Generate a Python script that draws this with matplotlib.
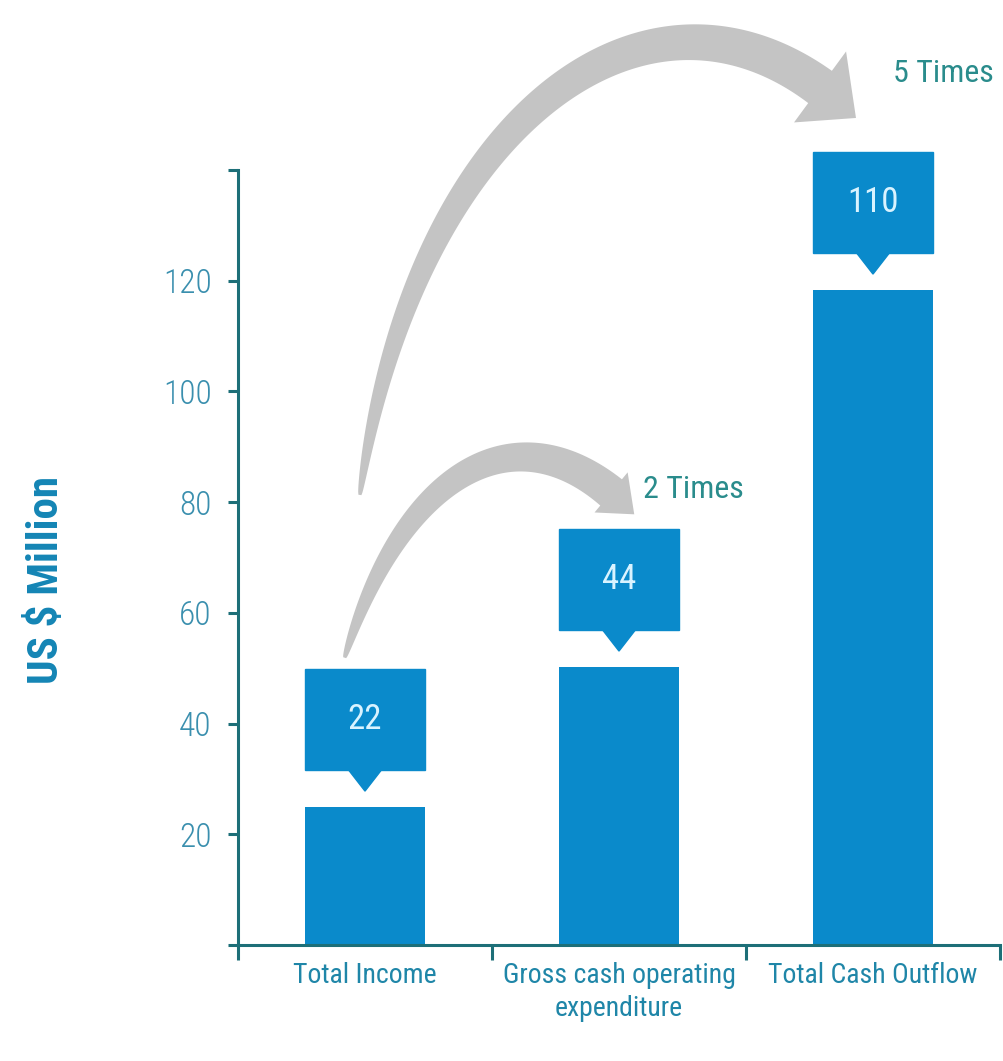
import numpy as np
import matplotlib
matplotlib.use("Agg")
import matplotlib.pyplot as plt
from matplotlib import font_manager
from matplotlib.patches import Rectangle, Polygon

categories = ["Total Income", "Gross cash operating\nexpenditure", "Total Cash Outflow"]
bar_heights = [25.0, 50.3, 118.4]
value_labels = ["22", "44", "110"]
times_labels = ["2 Times", "5 Times"]
y_ticks = [0, 20, 40, 60, 80, 100, 120, 140]
y_ticklabels = ["", "20", "40", "60", "80", "100", "120", ""]

# pick a condensed face if one is installed
_names = {f.name for f in font_manager.fontManager.ttflist}
NARROW = "DejaVu Sans"
for cand in ("Roboto Condensed", "Liberation Sans Narrow", "Open Sans Condensed", "Liberation Sans"):
    if (cand in _names):
        NARROW = cand
        break
plt.rcParams["font.family"] = [NARROW, "DejaVu Sans"]

BAR = "#0a8acb"
SPINE = "#1d6f78"
GREY = "#c4c4c4"
TICK_TXT = "#3a8fae"
CAT_TXT = "#1f86a8"
TIMES_TXT = "#2a8c8c"


def curved_arrow(ax, pa, pb, angA, angB, L1, L2, w0, w1, head_w, head_len, color):
    """Tapered curved arrow: cubic path built in pixels, thin at pa, head at pb."""
    P0 = ax.transData.transform(pa)
    P3 = ax.transData.transform(pb)
    a, b = np.radians(angA), np.radians(angB)
    C1 = P0 + L1 * np.array([np.cos(a), np.sin(a)])
    C2 = P3 - L2 * np.array([np.cos(b), np.sin(b)])
    t = np.linspace(0, 1, 400)[:, None]
    pts = (1 - t) ** 3 * P0 + 3 * t * (1 - t) ** 2 * C1 + 3 * t ** 2 * (1 - t) * C2 + t ** 3 * P3
    d = np.gradient(pts, axis=0)
    seg = np.hypot(d[:, 0], d[:, 1])
    s = np.concatenate([[0], np.cumsum(np.hypot(*np.diff(pts, axis=0).T))])
    L = s[-1]
    k = np.searchsorted(s, L - head_len)
    n = np.stack([-d[:, 1], d[:, 0]], axis=1) / seg[:, None]
    w = w0 + (w1 - w0) * (s / s[k]) ** 0.6
    body = slice(0, k + 1)
    left = pts[body] + n[body] * (w[body, None] / 2)
    right = pts[body] - n[body] * (w[body, None] / 2)
    base = pts[k]
    hl = base + n[k] * head_w / 2
    hr = base - n[k] * head_w / 2
    poly = np.vstack([left, hl, P3, hr, right[::-1]])
    poly = ax.transData.inverted().transform(poly)
    ax.add_patch(Polygon(poly, closed=True, color=color, lw=0, clip_on=False, zorder=1))


fig = plt.figure(figsize=(10.04, 10.61), dpi=100)
ax = fig.add_axes([238 / 1004, 116 / 1061, 762 / 1004, 775 / 1061])
ax.set_xlim(-0.5, 2.5)
ax.set_ylim(0, 140)

x = list(range(len(categories)))
width = 0.474
ax.bar(x, bar_heights, width=width, color=BAR, zorder=2)

# value call-out boxes with a small pointer
gap, box_h, tri_w, tri_h = 6.6, 18.3, 0.066, 3.8
box_tops = []
for xi, h, lab in zip(x, bar_heights, value_labels):
    b0 = h + gap
    ax.add_patch(Rectangle((xi - width / 2, b0), width, box_h, color=BAR, clip_on=False, zorder=3))
    ax.add_patch(Polygon([(xi - tri_w, b0 + 0.1), (xi + tri_w, b0 + 0.1), (xi, b0 - tri_h)],
                         closed=True, color=BAR, clip_on=False, zorder=3))
    ax.text(xi, b0 + box_h / 2, lab, ha="center", va="center", fontsize=25,
            color="#d9f3ff", zorder=4)
    box_tops.append(b0 + box_h)

# curved grey "times" arrows
curved_arrow(ax, (x[0] - 0.08, box_tops[0] + 2.0), (x[1] + 0.06, box_tops[1] + 2.6),
             73, -47, 200, 160, 3, 34, 52, 32, GREY)
curved_arrow(ax, (x[0] - 0.02, 81.3), (x[2] - 0.067, box_tops[2] + 6.1),
             82, -45, 395, 265, 3, 40, 88, 48, GREY)

ax.text(x[1] + 0.094, box_tops[1] + 7.0, times_labels[0], ha="left", va="center",
        fontsize=23, color=TIMES_TXT, clip_on=False)
ax.text(x[2] + 0.079, box_tops[2] + 14.2, times_labels[1], ha="left", va="center",
        fontsize=23, color=TIMES_TXT, clip_on=False)

for s in ("top", "right"):
    ax.spines[s].set_visible(False)
for s in ("left", "bottom"):
    ax.spines[s].set_color(SPINE)
    ax.spines[s].set_linewidth(2.2)

ax.set_yticks(y_ticks)
ax.set_yticklabels(y_ticklabels)
ax.tick_params(axis="y", direction="out", length=7, width=2.2, color=SPINE,
               labelsize=24, labelcolor=TICK_TXT, pad=12)
for t in ax.get_yticklabels():
    t.set_fontweight("light")

ax.set_xticks([-0.5, 0.5, 1.5, 2.5])
ax.set_xticklabels([])
ax.tick_params(axis="x", direction="out", length=11, width=2.2, color=SPINE)
ax.set_xticks(x, minor=True)
ax.set_xticklabels(categories, minor=True)
ax.tick_params(axis="x", which="minor", length=0, labelsize=20, labelcolor=CAT_TXT, pad=12)
for t in ax.get_xticklabels(minor=True):
    t.set_linespacing(1.3)

fig.text(47 / 1004, 1 - 580 / 1061, "US $ Million", rotation=90, ha="center", va="center",
         fontsize=31, fontweight="bold", color="#1485b5")

fig.savefig("out.png", dpi=100)
